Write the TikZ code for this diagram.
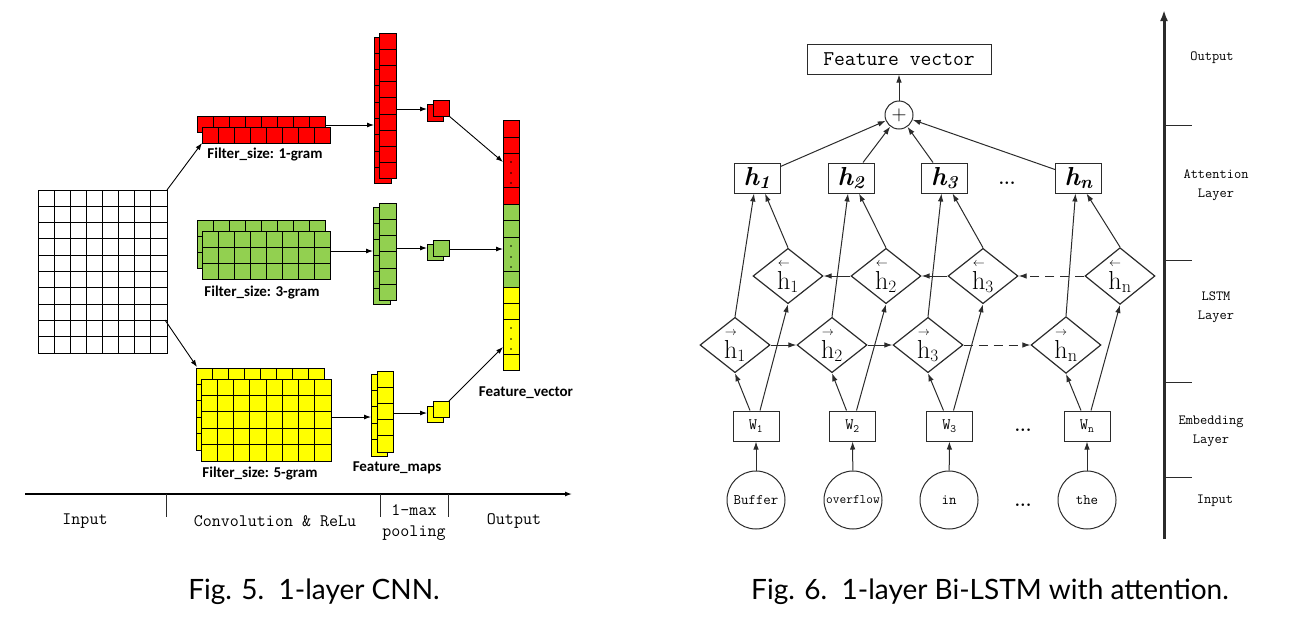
\documentclass[tikz,border=0pt]{standalone}
\usepackage{amsmath}
\usepackage{fontspec}
\usetikzlibrary{arrows.meta,shapes.geometric}
\newfontfamily\capfont{Lato}
\newfontfamily\calfont{Carlito}
\definecolor{fgreen}{HTML}{92D050}
\definecolor{fred}{HTML}{FF0000}
\definecolor{fyellow}{HTML}{FFFF00}
\definecolor{ink}{HTML}{2B2B2B}
\newcommand\cgrid[7]{%
  \foreach \ci in {1,...,#3}{\foreach \cj in {1,...,#4}{%
    \draw[cellst,fill=#7] ({#1+(\ci-1)*#5},{#2+(\cj-1)*#6}) rectangle ++(#5,#6);}}}
\tikzset{
  cellst/.style={draw=black,line width=1pt},
  arr/.style={-{Latex[length=7pt,width=5pt]},line width=0.9pt,draw=black},
  rarr/.style={-{Latex[length=8pt,width=5.5pt]},line width=1pt,draw=ink},
  lbl/.style={font=\calfont\bfseries\fontsize{15}{17}\selectfont,inner sep=0pt},
  axlbl/.style={font=\ttfamily\fontsize{17.5}{22}\selectfont,inner sep=0pt,align=center},
  raxlbl/.style={font=\ttfamily\fontsize{14}{19}\selectfont,inner sep=0pt,align=center},
  hbox/.style={draw=ink,line width=1pt,minimum width=46pt,minimum height=30pt,inner sep=0pt,
     font=\fontsize{26}{26}\selectfont\bfseries\itshape},
  wbox/.style={draw=ink,line width=1pt,minimum width=46pt,minimum height=30pt,inner sep=0pt,
     font=\ttfamily\fontsize{16}{16}\selectfont},
  dia/.style={diamond,draw=ink,line width=1.2pt,minimum width=70pt,minimum height=54pt,inner sep=0pt,
     font=\fontsize{26}{26}\selectfont},
  word/.style={circle,draw=ink,line width=1pt,minimum size=58pt,inner sep=0pt,
     font=\ttfamily\fontsize{14.5}{15}\selectfont},
  captxt/.style={font=\capfont\fontsize{28}{32}\selectfont,inner sep=0pt,anchor=base},
  dotsl/.style={font=\fontsize{18}{18}\selectfont\bfseries,inner sep=0pt},
}
\begin{document}
\begin{tikzpicture}[x=1pt,y=-1pt]
\useasboundingbox (0,0) rectangle (1306,622);
% ================= CNN =================
\cgrid{38}{190}{8}{10}{16.125}{16.3}{white}
% filters
\cgrid{197}{116}{8}{1}{16.1}{16}{fred}
\cgrid{202}{127}{8}{1}{16}{16}{fred}
\cgrid{197}{220}{8}{3}{16.1}{16}{fgreen}
\cgrid{202}{231}{8}{3}{16}{16}{fgreen}
\cgrid{196}{368}{8}{5}{16.1}{16.4}{fyellow}
\cgrid{201}{379}{8}{5}{16.25}{16.4}{fyellow}
% feature maps
\cgrid{374}{37}{1}{9}{17}{16.3}{fred}
\cgrid{379}{33}{1}{9}{17}{16.2}{fred}
\cgrid{373}{207}{1}{6}{17}{16.2}{fgreen}
\cgrid{379}{203}{1}{6}{17}{16.3}{fgreen}
\cgrid{371}{374}{1}{5}{16}{16.4}{fyellow}
\cgrid{377}{371}{1}{5}{16}{16.2}{fyellow}
% pooled
\draw[cellst,fill=fred] (427,104) rectangle (443,121);
\draw[cellst,fill=fred] (433,100) rectangle (449,116);
\draw[cellst,fill=fgreen] (427,244) rectangle (443,260);
\draw[cellst,fill=fgreen] (433,240) rectangle (449,256);
\draw[cellst,fill=fyellow] (427,406) rectangle (443,422);
\draw[cellst,fill=fyellow] (433,401) rectangle (449,417);
% feature vector
\foreach \ya/\yb/\cc in {120/137/fred,137/153/fred,153/187/fred,187/204/fred,
  204/220/fgreen,220/237/fgreen,237/271/fgreen,271/287/fgreen,
  287/303/fyellow,303/319/fyellow,319/354/fyellow,354/370/fyellow}
  {\draw[cellst,fill=\cc] (503,\ya) rectangle (519,\yb);}
\foreach \yt in {153,237,319}{\foreach \dd in {9,20,30}{\fill (511,\yt+\dd) circle (0.8);}}
% coordinates
\coordinate (gridTR) at (167,190);
\coordinate (gridR) at (165,320);
\coordinate (redIn) at (202,143);
\coordinate (yelIn) at (197,367);
\coordinate (redF) at (326,125);   \coordinate (redMi) at (374,125);
\coordinate (redMo) at (396,109);  \coordinate (redPi) at (427,109);
\coordinate (redPo) at (449,116);  \coordinate (fvR) at (503,162);
\coordinate (grnF) at (330,251);   \coordinate (grnMi) at (373,251);
\coordinate (grnMo) at (396,248);  \coordinate (grnPi) at (427,248);
\coordinate (grnPo) at (449,249);  \coordinate (fvG) at (503,249);
\coordinate (yelF) at (331,417);   \coordinate (yelMi) at (371,417);
\coordinate (yelMo) at (393,413);  \coordinate (yelPi) at (427,413);
\coordinate (yelPo) at (449,401);  \coordinate (fvY) at (503,347);
\draw[arr] (gridTR) -- (redIn);
\draw[arr] (gridR) -- (yelIn);
\draw[arr] (redF) -- (redMi);
\draw[arr] (redMo) -- (redPi);
\draw[arr] (redPo) -- (fvR);
\draw[arr] (grnF) -- (grnMi);
\draw[arr] (grnMo) -- (grnPi);
\draw[arr] (grnPo) -- (fvG);
\draw[arr] (yelF) -- (yelMi);
\draw[arr] (yelMo) -- (yelPi);
\draw[arr] (yelPo) -- (fvY);
% labels
\node[lbl] (l1) at (265,155) {Filter\_size: 1-gram};
\node[lbl] (l3) at (262,293) {Filter\_size: 3-gram};
\node[lbl] (l5) at (260,473) {Filter\_size: 5-gram};
\node[lbl] (lfm) at (397,468) {Feature\_maps};
\node[lbl] (lfv) at (526,393) {Feature\_vector};
% axis
\coordinate (axL) at (25,494);
\coordinate (axR) at (572,494);
\draw[arr,line width=1.3pt] (axL) -- (axR);
\foreach \xx in {166,380,448}{\draw[line width=1pt,draw=ink] (\xx,494) -- (\xx,517);}
\node[axlbl] (a1) at (85,521) {Input};
\node[axlbl] (a2) at (275,521) {Convolution \& ReLu};
\node[axlbl] (a3) at (414,510) {1-max};
\node[axlbl] (a4) at (414,533) {pooling};
\node[axlbl] (a5) at (514,521) {Output};
\node[captxt] (cap1) at (314,599) {Fig. 5.\ \ 1-layer CNN.};
% ================= Bi-LSTM =================
\node[draw=ink,line width=1pt,minimum width=184pt,minimum height=30pt,inner sep=0pt,
  font=\ttfamily\fontsize{21}{21}\selectfont] (fv) at (899,59) {Feature vector};
\node[circle,draw=ink,line width=1pt,minimum size=28pt,inner sep=0pt,
  font=\fontsize{22}{22}\selectfont] (plus) at (899,115) {$+$};
\node[hbox] (h1) at (757,178) {h\textsubscript{1}};
\node[hbox] (h2) at (851,178) {h\textsubscript{2}};
\node[hbox] (h3) at (944.5,178) {h\textsubscript{3}};
\node[hbox] (hn) at (1078.5,178) {h\textsubscript{n}};
\node[dotsl] (hd) at (1007,183) {...};
\node[dia] (b1) at (788,276) {$\overset{\scriptscriptstyle\leftarrow}{\mathrm{h}}_{1}$};
\node[dia] (b2) at (886,276) {$\overset{\scriptscriptstyle\leftarrow}{\mathrm{h}}_{2}$};
\node[dia] (b3) at (983,276) {$\overset{\scriptscriptstyle\leftarrow}{\mathrm{h}}_{3}$};
\node[dia] (bn) at (1120,276) {$\overset{\scriptscriptstyle\leftarrow}{\mathrm{h}}_{\mathrm{n}}$};
\node[dia] (f1) at (735,345) {$\overset{\scriptscriptstyle\rightarrow}{\mathrm{h}}_{1}$};
\node[dia] (f2) at (832,345) {$\overset{\scriptscriptstyle\rightarrow}{\mathrm{h}}_{2}$};
\node[dia] (f3) at (928,345) {$\overset{\scriptscriptstyle\rightarrow}{\mathrm{h}}_{3}$};
\node[dia] (fn) at (1066,345) {$\overset{\scriptscriptstyle\rightarrow}{\mathrm{h}}_{\mathrm{n}}$};
\node[wbox] (w1) at (756,426) {W\textsubscript{1}};
\node[wbox] (w2) at (852.5,426) {W\textsubscript{2}};
\node[wbox] (w3) at (949.5,426) {W\textsubscript{3}};
\node[wbox] (wn) at (1087,426) {W\textsubscript{n}};
\node[dotsl] (wd) at (1023,430) {...};
\node[word] (c1) at (756,500) {Buffer};
\node[word,font=\ttfamily\fontsize{13}{13}\selectfont] (c2) at (853,500) {overflow};
\node[word] (c3) at (949,500) {in};
\node[word] (cn) at (1087,500) {the};
\node[dotsl] (cd) at (1023,505) {...};
% connectors
\draw[rarr] (plus) -- (fv);
\draw[rarr] ([yshift=-4pt]h1.north east) -- (plus);
\draw[rarr] ([xshift=12pt]h2.north) -- (plus);
\draw[rarr] ([xshift=-11.5pt]h3.north) -- (plus);
\draw[rarr] ([yshift=-7pt]hn.north west) -- (plus);
\foreach \k in {1,2,3,n}{
  \draw[rarr] (f\k.north) -- ([xshift=-3pt]h\k.south);
  \draw[rarr] (b\k.north) -- ([xshift=8pt]h\k.south);
  \draw[rarr] ([xshift=-6pt]w\k.north) -- (f\k.south);
  \draw[rarr] ([xshift=4pt]w\k.north) -- (b\k.south);
  \draw[rarr] (c\k) -- (w\k);
}
\draw[rarr] (f1.east) -- (f2.west);
\draw[rarr] (f2.east) -- (f3.west);
\draw[rarr,dash pattern=on 9pt off 6pt] (f3.east) -- (fn.west);
\draw[rarr] (b2.west) -- (b1.east);
\draw[rarr] (b3.west) -- (b2.east);
\draw[rarr,dash pattern=on 9pt off 6pt] (bn.west) -- (b3.east);
% right axis
\coordinate (rax0) at (1164,539);
\coordinate (rax1) at (1164,10);
\draw[-{Latex[length=11pt,width=8pt]},line width=3pt,draw=ink] (rax0) -- (rax1);
\foreach \yy in {125,260,382,477}{\draw[line width=1pt,draw=ink] (1164,\yy) -- (1192,\yy);}
\node[raxlbl] (r1) at (1212,58) {Output};
\node[raxlbl] (r2) at (1216,185) {Attention\\Layer};
\node[raxlbl] (r3) at (1216,307) {LSTM\\Layer};
\node[raxlbl] (r4) at (1211,431) {Embedding\\Layer};
\node[raxlbl] (r5) at (1215,501) {Input};
\node[captxt] (cap2) at (990,599) {Fig. 6.\ \ 1-layer Bi-LSTM with attention.};
\end{tikzpicture}
\end{document}
